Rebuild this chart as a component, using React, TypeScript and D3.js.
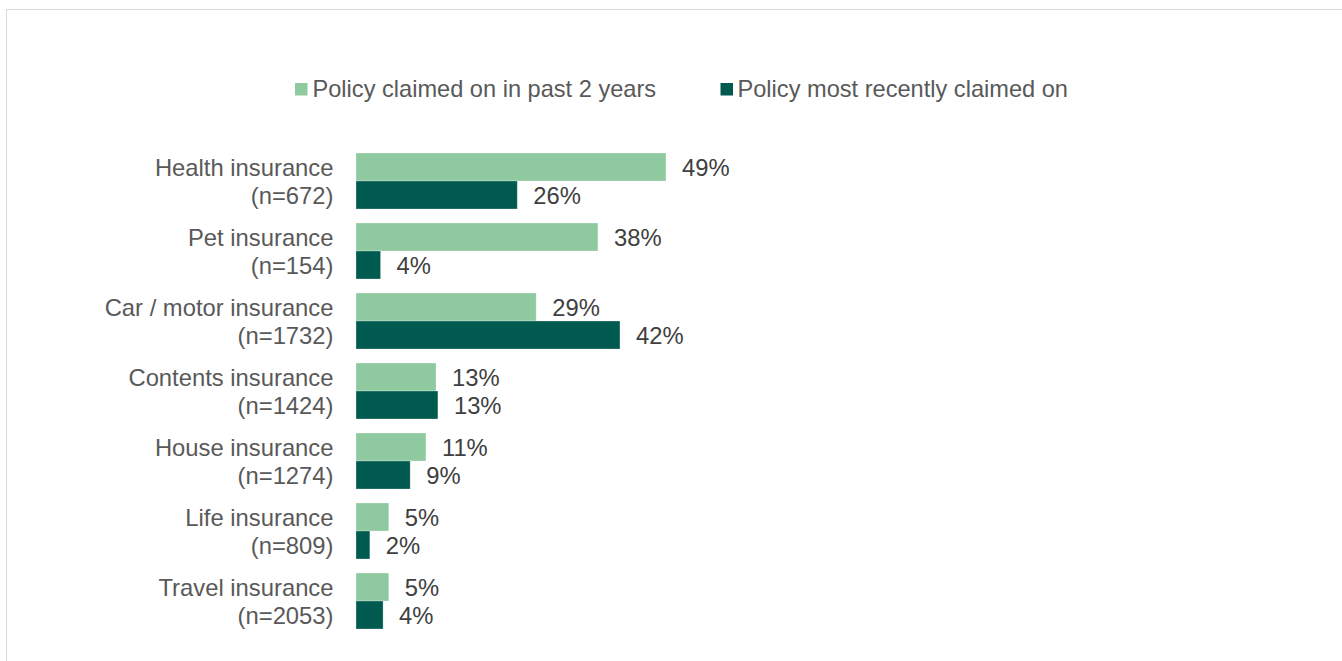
import React from "react";
import * as d3 from "d3";

const categories = [
  "Health insurance",
  "Pet insurance",
  "Car / motor insurance",
  "Contents insurance",
  "House insurance",
  "Life insurance",
  "Travel insurance",
];
const sampleSizes = ["672", "154", "1732", "1424", "1274", "809", "2053"];
const claimedPast2Years = [49.2, 38.4, 28.6, 12.7, 11.1, 5.2, 5.2];
const mostRecentlyClaimed = [25.6, 3.9, 41.9, 13.0, 8.6, 2.2, 4.3];
const seriesNames = ["Policy claimed on in past 2 years", "Policy most recently claimed on"];
const seriesColors = ["#8FC9A0", "#005A4F"];

const W = 1342;
const H = 661;
const FONT = "'Liberation Sans', Arial, sans-serif";

export default function App() {
  const x0 = 356;
  const x = d3.scaleLinear().domain([0, 100]).range([x0, x0 + 630]);
  const y = d3.scaleBand().domain(categories).range([146, 636]).paddingInner(0.2).paddingOuter(0.1);
  const series = [claimedPast2Years, mostRecentlyClaimed];
  const inner = d3.scaleBand().domain(["0", "1"]).range([0, y.bandwidth()]);

  return (
    <svg width={W} height={H} style={{ position: "absolute", left: 0, top: 0 }} fontFamily={FONT}>
      <rect x={0} y={0} width={W} height={H} fill="#fff" />
      <path d="M6.5,661 V9.5 H1342" fill="none" stroke="#D9D9D9" strokeWidth={1} />
      {/* legend */}
      {[{ sx: 295, tx: 312.5 }, { sx: 720.5, tx: 737.5 }].map((p, i) => (
        <g key={i}>
          <rect x={p.sx} y={83} width={12.5} height={12.5} fill={seriesColors[i]} />
          <text x={p.tx} y={97} fontSize={23.6} fill="#595959">
            {seriesNames[i]}
          </text>
        </g>
      ))}
      {categories.map((c, ci) => {
        const top = y(c)!;
        const center = top + y.bandwidth() / 2;
        return (
          <g key={c}>
            <text textAnchor="end" x={333.5} fontSize={23.8} fill="#595959">
              <tspan x={333.5} y={center - 5}>{c}</tspan>
              <tspan x={333.5} y={center + 23}>{`(n=${sampleSizes[ci]})`}</tspan>
            </text>
            {series.map((s, si) => {
              const by = top + inner(String(si))!;
              const bh = inner.bandwidth();
              const v = s[ci];
              return (
                <g key={si}>
                  <rect x={x(0)} y={by} width={x(v) - x(0)} height={bh} fill={seriesColors[si]} stroke="#fff" strokeOpacity={0.35} strokeWidth={0.8} />
                  <text x={x(v) + 16} y={by + bh / 2 + 8.5} fontSize={23.8} fill="#404040">
                    {`${Math.round(v)}%`}
                  </text>
                </g>
              );
            })}
          </g>
        );
      })}
    </svg>
  );
}
